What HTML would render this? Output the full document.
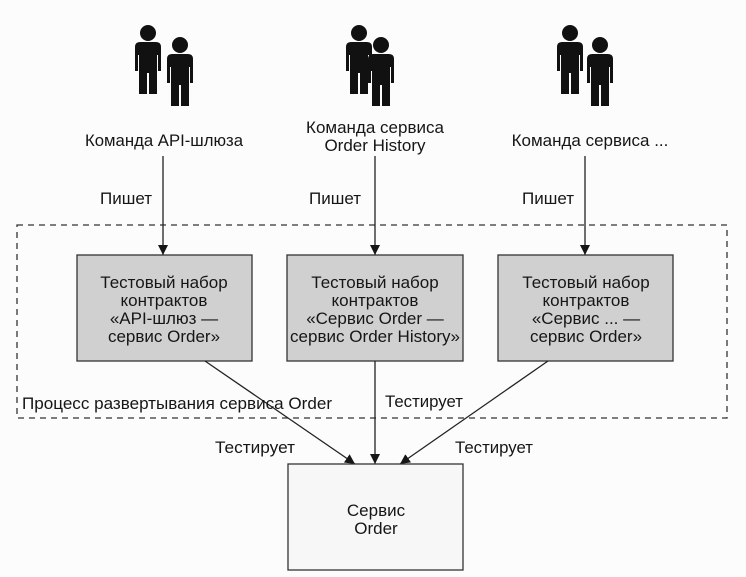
<!DOCTYPE html>
<html><head><meta charset="utf-8"><style>
html,body{margin:0;padding:0;background:#fcfcfc;}
svg{display:block;}
text{font-family:"Liberation Sans",sans-serif;font-size:17px;fill:#161616;}
</style></head><body>
<svg width="746" height="577" viewBox="0 0 746 577" xmlns="http://www.w3.org/2000/svg">
<defs>
<marker id="ah" viewBox="0 0 10 10" refX="10" refY="5" markerWidth="10" markerHeight="10" orient="auto" markerUnits="userSpaceOnUse">
<path d="M0,0 L10,5 L0,10 z" fill="#161616"/>
</marker>
<g id="p">
<circle cx="0" cy="0" r="8" fill="#111"/>
<path d="M-13,14 Q-13,9 -8,9 L8,9 Q13,9 13,14 L13,38 L10,38 L10,22 L9,22 L9,61 L1,61 L1,40 L-1,40 L-1,61 L-9,61 L-9,22 L-10,22 L-10,38 L-13,38 z" fill="#111"/>
</g>
</defs>
<use href="#p" x="148" y="33"/><use href="#p" x="180" y="45"/>
<use href="#p" x="359" y="33"/><use href="#p" x="381" y="45"/>
<use href="#p" x="570" y="33"/><use href="#p" x="600" y="45"/>
<text x="164" y="146" text-anchor="middle" textLength="158" lengthAdjust="spacingAndGlyphs">Команда API-шлюза</text>
<text x="375" y="133" text-anchor="middle">Команда сервиса</text>
<text x="375" y="151" text-anchor="middle">Order History</text>
<text x="590" y="146" text-anchor="middle">Команда сервиса ...</text>
<rect x="17" y="225" width="710" height="193" fill="none" stroke="#333" stroke-width="1.3" stroke-dasharray="6,5"/>
<line x1="163" y1="156" x2="163" y2="255" stroke="#222" stroke-width="1.3" marker-end="url(#ah)"/>
<line x1="375" y1="156" x2="375" y2="255" stroke="#222" stroke-width="1.3" marker-end="url(#ah)"/>
<line x1="585" y1="156" x2="585" y2="255" stroke="#222" stroke-width="1.3" marker-end="url(#ah)"/>
<text x="100" y="204">Пишет</text>
<text x="309" y="204">Пишет</text>
<text x="522" y="204">Пишет</text>
<rect x="77" y="255" width="175" height="106" fill="#d0d0d0" stroke="#333" stroke-width="1.3"/>
<rect x="287" y="255" width="176" height="106" fill="#d0d0d0" stroke="#333" stroke-width="1.3"/>
<rect x="498" y="255" width="175" height="106" fill="#d0d0d0" stroke="#333" stroke-width="1.3"/>
<g text-anchor="middle">
<text x="164" y="288">Тестовый набор</text><text x="164" y="306">контрактов</text><text x="164" y="324">«API-шлюз —</text><text x="164" y="342">сервис Order»</text>
<text x="375" y="288">Тестовый набор</text><text x="375" y="306">контрактов</text><text x="375" y="324">«Сервис Order —</text><text x="375" y="342" textLength="170" lengthAdjust="spacingAndGlyphs">сервис Order History»</text>
<text x="586" y="288">Тестовый набор</text><text x="586" y="306">контрактов</text><text x="586" y="324">«Сервис ... —</text><text x="586" y="342">сервис Order»</text>
</g>
<line x1="205" y1="361" x2="355" y2="464" stroke="#222" stroke-width="1.3" marker-end="url(#ah)"/>
<line x1="375" y1="361" x2="375" y2="464" stroke="#222" stroke-width="1.3" marker-end="url(#ah)"/>
<line x1="548" y1="361" x2="400" y2="464" stroke="#222" stroke-width="1.3" marker-end="url(#ah)"/>
<text x="22" y="409" textLength="310" lengthAdjust="spacingAndGlyphs">Процесс развертывания сервиса Order</text>
<text x="385" y="407" textLength="78" lengthAdjust="spacingAndGlyphs">Тестирует</text>
<text x="215" y="453" textLength="80" lengthAdjust="spacingAndGlyphs">Тестирует</text>
<text x="455" y="453" textLength="78" lengthAdjust="spacingAndGlyphs">Тестирует</text>
<rect x="288" y="464" width="175" height="106" fill="#f7f7f7" stroke="#333" stroke-width="1.3"/>
<text x="376" y="516" text-anchor="middle">Сервис</text>
<text x="376" y="534" text-anchor="middle">Order</text>
</svg>
</body></html>
